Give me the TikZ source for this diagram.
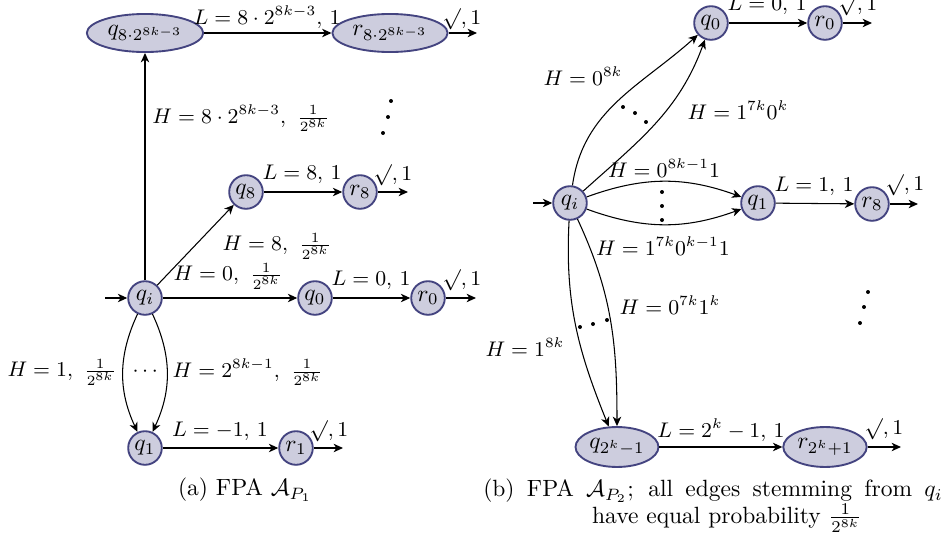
\documentclass[tikz,border=0pt]{standalone}
\usepackage{amsmath,amssymb}
\usetikzlibrary{arrows.meta,shapes.geometric}
\definecolor{stfill}{RGB}{205,205,222}
\definecolor{stdraw}{RGB}{68,68,128}
\tikzset{
  st/.style={circle,draw=stdraw,fill=stfill,line width=0.8pt,minimum size=14.3pt,inner sep=0.3pt},
  ste/.style={ellipse,draw=stdraw,fill=stfill,line width=0.8pt,inner sep=0.3pt},
  tr/.style={-{Stealth[length=4pt,width=3.6pt,inset=1.2pt]},line width=0.45pt},
  lab/.style={inner sep=0.5pt,font=\small},
  dotn/.style={circle,fill=black,inner sep=0pt,minimum size=1.7pt}
}
\begin{document}
\begin{tikzpicture}[x=0.4255pt,y=-0.4255pt]
\useasboundingbox (0,0) rectangle (946,541);
% ---------------- (a) ----------------
\node[ste,minimum width=49.5pt,minimum height=16.2pt] (qbig) at (145,33) {$q_{8\cdot 2^{8k-3}}$};
\node[ste,minimum width=49pt,minimum height=16.2pt] (rbig) at (390,33) {$r_{8\cdot 2^{8k-3}}$};
\coordinate (ebig) at (477,33);
\node[st] (qi) at (145,298) {$q_i$};
\coordinate (ini) at (105,298);
\node[st] (q8) at (246,192) {$q_8$};
\node[st] (r8) at (360,192) {$r_8$};
\coordinate (e8) at (408,192);
\node[st] (q0) at (315,298) {$q_0$};
\node[st] (r0) at (428,298) {$r_0$};
\coordinate (e0) at (476,298);
\node[st] (q1) at (145,448) {$q_1$};
\node[st] (r1) at (296,448) {$r_1$};
\coordinate (e1) at (343,448);

\draw[tr] (qbig) -- (rbig);
\draw[tr] (rbig) -- (ebig);
\draw[tr] (qi) -- (qbig);
\draw[tr] (ini) -- (qi);
\draw[tr] (qi) -- (q8);
\draw[tr] (q8) -- (r8);
\draw[tr] (r8) -- (e8);
\draw[tr] (qi) -- (q0);
\draw[tr] (q0) -- (r0);
\draw[tr] (r0) -- (e0);
\draw[tr] (q1) -- (r1);
\draw[tr] (r1) -- (e1);
\draw[tr] (qi) to[bend right=25] (q1);
\draw[tr] (qi) to[bend left=25] (q1);

\node[lab] (lbig) at (267,17) {$L=8\cdot 2^{8k-3},\,1$};
\node[lab] (cbig) at (462,19) {$\surd,1$};
\node[lab] (hbig) at (241,118) {$H=8\cdot 2^{8k-3},\ \frac{1}{2^{8k}}$};
\node[dotn] (da1) at (391,101) {};
\node[dotn] (da2) at (388,117) {};
\node[dotn] (da3) at (383,133) {};
\node[lab] (l8) at (302,174) {$L=8,\,1$};
\node[lab] (c8) at (393,175) {$\surd,1$};
\node[lab] (h8) at (277,246) {$H=8,\ \frac{1}{2^{8k}}$};
\node[lab] (h0) at (228,276) {$H=0,\ \frac{1}{2^{8k}}$};
\node[lab] (l0) at (371,280) {$L=0,\,1$};
\node[lab] (c0) at (462,280) {$\surd,1$};
\node[lab] (h1) at (62,372) {$H=1,\ \frac{1}{2^{8k}}$};
\node[lab] (hdots) at (147,372) {$\cdots$};
\node[lab] (h2) at (248,372) {$H=2^{8k-1},\ \frac{1}{2^{8k}}$};
\node[lab] (l1) at (220,431) {$L=-1,\,1$};
\node[lab] (c1) at (329,431) {$\surd,1$};
\node (capa) at (245,490) {(a) FPA $\mathcal{A}_{P_1}$};

% ---------------- (b) ----------------
\node[st] (bq0) at (711,23) {$q_0$};
\node[st] (br0) at (825,23) {$r_0$};
\coordinate (be0) at (872,23);
\node[st] (bqi) at (570,203) {$q_i$};
\coordinate (bini) at (533,203);
\node[st] (bq1) at (758,203) {$q_1$};
\node[st] (br8) at (872,204) {$r_8$};
\coordinate (be8) at (918,204);
\node[ste,minimum width=35.3pt,minimum height=17pt] (bqk) at (617,447) {$q_{2^k-1}$};
\node[ste,minimum width=35.5pt,minimum height=17pt] (brk) at (825,447) {$r_{2^k+1}$};
\coordinate (bek) at (901,447);

\draw[tr] (bq0) -- (br0);
\draw[tr] (br0) -- (be0);
\draw[tr] (bini) -- (bqi);
\draw[tr] (bq1) -- (br8);
\draw[tr] (br8) -- (be8);
\draw[tr] (bqk) -- (brk);
\draw[tr] (brk) -- (bek);
\draw[tr] (bqi) to[out=82,in=222] (bq0);
\draw[tr] (bqi) to[out=42,in=250] (bq0);
\draw[tr] (bqi) to[bend left=20] (bq1);
\draw[tr] (bqi) to[bend right=20] (bq1);
\draw[tr] (bqi) to[out=-93,in=112] (bqk);
\draw[tr] (bqi) to[out=-65,in=90] (bqk.north);

\node[lab] (bl0) at (767,5) {$L=0,\,1$};
\node[lab] (bc0) at (858,5) {$\surd,1$};
\node[lab] (bh08k) at (583,76) {$H=0^{8k}$};
\node[lab] (bh17k) at (738,110) {$H=1^{7k}0^k$};
\node[dotn] (bd1) at (623,107) {};
\node[dotn] (bd2) at (635,113) {};
\node[dotn] (bd3) at (646,122) {};
\node[lab] (bh0801) at (664,168) {$H=0^{8k-1}1$};
\node[dotn] (bv1) at (662,192) {};
\node[dotn] (bv2) at (662,206) {};
\node[dotn] (bv3) at (662,220) {};
\node[lab] (bl1) at (814,186) {$L=1,\,1$};
\node[lab] (bc1) at (905,185) {$\surd,1$};
\node[lab] (bh17k01) at (663,246) {$H=1^{7k}0^{k-1}1$};
\node[lab] (bh07k) at (670,305) {$H=0^{7k}1^k$};
\node[dotn] (bh1) at (580,327) {};
\node[dotn] (bh2) at (593,324) {};
\node[dotn] (bh3) at (607,320) {};
\node[lab] (bh18k) at (525,347) {$H=1^{8k}$};
\node[dotn] (bw1) at (868,292) {};
\node[dotn] (bw2) at (864,307) {};
\node[dotn] (bw3) at (860,323) {};
\node[lab] (blk) at (721,430) {$L=2^k-1,\,1$};
\node[lab] (bck) at (884,429) {$\surd,1$};
\node (capb1) at (713,491) {\makebox[195.5pt][s]{(b) FPA $\mathcal{A}_{P_2}$; all edges stemming from $q_i$}};
\node (capb2) at (727,518) {have equal probability $\frac{1}{2^{8k}}$};
\end{tikzpicture}
\end{document}
